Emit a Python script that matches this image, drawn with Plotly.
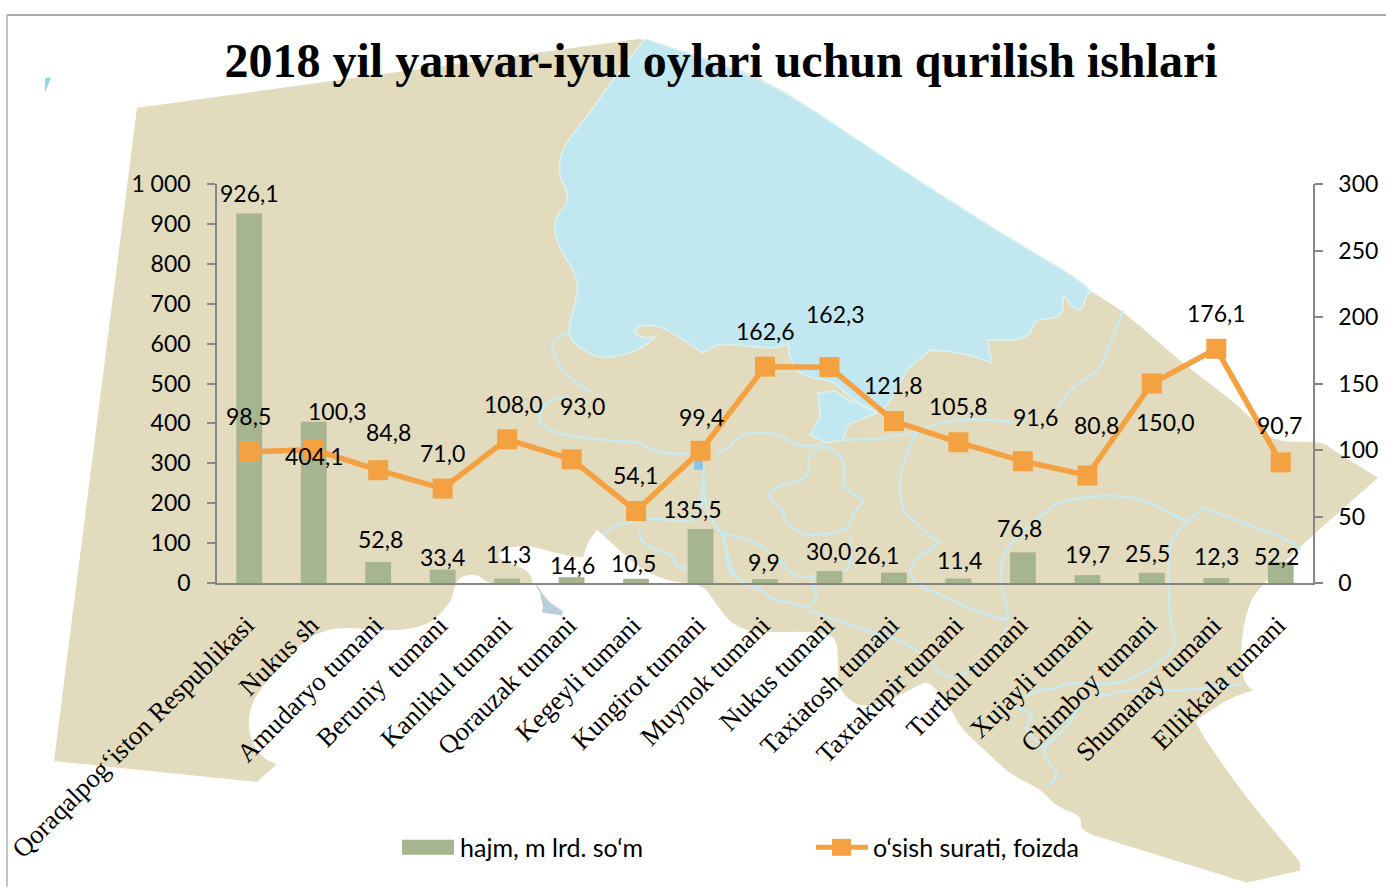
import plotly.graph_objects as go

TITLE = "2018 yil yanvar-iyul oylari uchun qurilish ishlari"
CATEGORIES = ["Qoraqalpog‘iston Respublikasi", "Nukus sh", "Amudaryo tumani", "Beruniy\u00a0\u00a0tumani",
              "Kanlikul tumani", "Qorauzak tumani", "Kegeyli tumani", "Kungirot tumani", "Muynok tumani",
              "Nukus tumani", "Taxiatosh tumani", "Taxtakupir tumani", "Turtkul tumani", "Xujayli tumani",
              "Chimboy tumani", "Shumanay tumani", "Ellikkala tumani"]
VOLUME = [926.1, 404.1, 52.8, 33.4, 11.3, 14.6, 10.5, 135.5, 9.9, 30.0, 26.1, 11.4, 76.8, 19.7, 25.5, 12.3, 52.2]
GROWTH = [98.5, 100.3, 84.8, 71.0, 108.0, 93.0, 54.1, 99.4, 162.6, 162.3, 121.8, 105.8, 91.6, 80.8, 150.0, 176.1, 90.7]
VOLUME_NAME = "hajm, m lrd. so‘m"
GROWTH_NAME = "o‘sish surati, foizda"

# label offsets in pixels from the mark
VOL_DX = [0, 1, 2, 0, 1, 1, -3, -8, -1, -1, -17, 1, -3, 0, -4, 0, -4]
VOL_DY = [20, -34, 23, 13, 24, 12, 16, 20, 17, 20, 18, 18, 24, 21, 20, 22, 6]
GRO_DX = [-1, 24, 10, 0, 6, 11, -1, 1, 0, 6, 0, 0, 13, 9, 14, 0, -1]
GRO_DY = [36, 39, 38, 36, 35, 53, 36, 34, 36, 53, 36, 36, 44, 51, -38, 36, 37]

W, H = 1386, 888
L, R, T, B = 217, 1313, 183.5, 583.5
LAND, LAKE, RIVER = "#E2DBBD", "#C1E8F0", "#C8EAF0"
BAR, ORANGE, AXIS = "#A6B48F", "#F3A141", "#868686"

# Background map, picture pixels
MAP_LAND = [(137,107),(137,107),(640,38),(640,38),(756,75),(756,75),(1092,292),(1125,312),(1178,360),(1245,410),(1271,443),(1322,441),(1332,450),
            (1378,478),(1378,478),(1302,545),(1262,585),(1248,605),(1240,647),(1243,683),(1253,691),(1253,691),(1227,700),(1195,722),(1195,722),(1207,743),
            (1247,800),(1300,863),(1300,863),(1300,872),(1300,872),(1247,884),(1247,884),(1095,837),(1095,837),(1080,830),(1082,817),(1057,808),(1042,792),(1030,785),
            (1010,775),(980,747),(960,728),(950,707),(930,683),(923,684),(923,684),(868,712),(838,693),(838,660),(837,642),(827,633),
            (793,632),(760,633),(733,627),(713,600),(703,585),(667,582),(637,567),(605,537),(597,530),(597,530),(588,542),(583,558),(583,558),
            (560,555),(527,545),(500,550),(498,560),(517,566),(530,573),(533,585),(533,585),(497,585),(485,582),(480,576),(467,575),
            (457,580),(453,593),(451,603),(428,627),(388,632),(339,627),(308,637),(277,670),(250,703),(248,737),(263,760),
            (277,765),(277,765),(257,783),(257,783),(54,762),(54,762)]
MAP_LAKE = [(645,38),(645,38),(607,87),(589,113),(562,147),(558,173),(571,200),(554,217),(556,243),(580,280),(574,307),(567,333),
            (577,347),(603,360),(640,350),(655,337),(655,337),(643,338),(633,332),(640,325),(657,325),(673,333),(703,353),(703,353),(718,343),
            (753,347),(777,348),(788,343),(788,343),(790,360),(803,377),(830,380),(843,390),(853,400),(877,413),(887,407),
            (907,370),(907,370),(930,350),(930,350),(965,353),(992,363),(992,363),
            (987,340),(987,340),(1027,340),(1036,320),(1036,320),(1063,317),(1063,295),(1063,295),(1080,315),(1087,293),(1092,292),(1092,292),(1076,277),(1001,233),
            (903,170),(810,107),(756,75)]
MAP_DELTA = [(818,393),(835,391),(846,399),(877,413),(850,424),(847,427),(843,440),(827,443),(810,435),(820,417)]
MAP_RIVERS = [
    [(568,333),(553,338),(552,350),(563,373),(583,387),(590,392)],
    [(570,397),(553,398),(541,408),(538,422),(548,430),(573,437),(623,442),(640,442),(650,450),(673,455),(697,453)],
    [(717,455),(730,447),(740,435),(757,432),(783,435),(790,443),(810,447),(823,443)],
    [(827,447),(817,447),(807,460),(810,470),(805,480),(780,485),(768,493),(772,502),(783,510),(785,523),(807,537),
     (837,533),(850,527),(855,510),(867,500),(847,492),(843,480),(845,458),(827,447)],
    [(850,537),(852,567),(840,575),(810,577),(793,577),(777,557),(747,538),(723,535),(713,523),(705,507),(703,463)],
    [(723,535),(730,567),(740,583),(763,590),(773,602),(787,602),(807,610),(818,597),(813,585),(810,577)],
    [(807,610),(840,622),(870,632),(900,640),(927,658),(943,678),(963,677),(990,653),(1008,627)],
    [(917,585),(1008,627),(1008,610),(1002,593),(1000,560),(1013,540),(1040,517),(1060,500),(1130,493),(1187,522)],
    [(1203,508),(1187,522),(1170,540),(1168,573),(1170,620),(1175,637),(1173,653),(1130,683),(1097,685),(1070,683),
     (1053,690),(1040,690),(1025,698)],
    [(1203,508),(1290,540),(1300,550)],
    [(1093,695),(1113,697),(1113,692),(1163,690),(1180,692),(1213,687),(1243,685)],
    [(1080,707),(1067,730),(1043,747),(1045,760),(1060,775),(1047,788)],
    [(1013,707),(1037,713),(1023,730),(1043,747)],
    [(917,433),(900,463),(900,510),(917,523),(933,540),(943,542),(917,557),(908,573),(917,583)],
    [(843,440),(877,440),(900,435),(917,433),(925,427),(965,418),(1014,422)],
    [(1123,310),(1112,340),(1098,373),(1076,383),(1058,407)],
    [(603,535),(613,525),(633,522),(647,518),(680,522),(700,520),(703,480)],
    [(640,530),(637,538),(653,550),(677,557),(673,567),(695,570)],
    [(713,523),(727,537),(727,570),(737,578)],
    [(697,453),(703,463)],
]
MAP_POND = [(535,585),(540,593),(543,607),(542,613),(562,616),(563,612),(550,603),(543,595),(538,587)]
MAP_MARK = [(45,77),(51,77),(45,92)]


def px(x): return (x - L) / (R - L)
def py(y): return (B - y) / (B - T)
def pt(p): return f"{px(p[0]):.5f},{py(p[1]):.5f}"
def path(pts, close=True):
    return "M" + "L".join(pt(p) for p in pts) + ("Z" if close else "")
def smooth(pts, close=True):
    """Quadratic curve through the midpoints; repeated points stay sharp."""
    mid = lambda a, b: ((a[0] + b[0]) / 2, (a[1] + b[1]) / 2)
    if close:
        s = "M" + pt(mid(pts[-1], pts[0]))
        n = len(pts)
        for i in range(n):
            s += "Q" + pt(pts[i]) + " " + pt(mid(pts[i], pts[(i + 1) % n]))
        return s + "Z"
    s = "M" + pt(pts[0])
    for i in range(1, len(pts) - 1):
        s += "Q" + pt(pts[i]) + " " + pt(mid(pts[i], pts[i + 1]))
    return s + "L" + pt(pts[-1])
def poly(pts, fill, line=None, lw=0, curve=False):
    return dict(type="path", xref="paper", yref="paper", layer="below", path=smooth(pts) if curve else path(pts),
                fillcolor=fill, line=dict(color=line or fill, width=lw))

shapes = [poly(MAP_LAND, LAND, curve=True), poly(MAP_LAKE, LAKE, "#DDF1F0", 1.5, curve=True),
          poly(MAP_DELTA, LAKE, "#DDF1F0", 1.5)]
for r in MAP_RIVERS:
    shapes.append(dict(type="path", xref="paper", yref="paper", layer="below", path=smooth(r, False),
                       line=dict(color=RIVER, width=2.5)))
shapes += [poly(MAP_POND, "#B7CFDD"), poly(MAP_MARK, "#8FD8DC"),
           poly([(694,460),(703,460),(703,470),(694,470)], "#8CC4E4")]
# frame
shapes += [dict(type="line", xref="paper", yref="paper", x0=px(7), x1=px(1386), y0=py(14), y1=py(14), layer="below",
                line=dict(color="#8C8C8C", width=1.5)),
           dict(type="line", xref="paper", yref="paper", x0=px(7), x1=px(7), y0=py(14), y1=py(888), layer="below",
                line=dict(color="#B0B0B0", width=1.5))]
# legend keys
shapes += [poly([(402,841),(454,841),(454,856),(402,856)], BAR),
           dict(type="line", xref="paper", yref="paper", x0=px(816), x1=px(868), y0=py(848.5), y1=py(848.5),
                line=dict(color=ORANGE, width=5)),
           poly([(832,840),(851,840),(851,857),(832,857)], ORANGE)]

fig = go.Figure()
fig.add_bar(x=CATEGORIES, y=VOLUME, name=VOLUME_NAME, marker=dict(color=BAR, line=dict(width=0)), width=0.4, yaxis="y")
fig.add_scatter(x=CATEGORIES, y=GROWTH, name=GROWTH_NAME, mode="lines+markers", yaxis="y2",
                line=dict(color=ORANGE, width=5.5), marker=dict(symbol="square", size=20, color=ORANGE))

LAB = dict(family="Lato, Carlito, sans-serif", size=23, color="black")
LEG = dict(family="Lato, Carlito, sans-serif", size=25, color="black")
ann = []
def fmt(v): return f"{v:.1f}".replace(".", ",")
for c, v, dx, dy in zip(CATEGORIES, VOLUME, VOL_DX, VOL_DY):
    ann.append(dict(x=c, y=v, xref="x", yref="y", text=fmt(v), showarrow=False, xshift=dx, yshift=dy, font=LAB,
                    xanchor="center", yanchor="middle"))
for c, v, dx, dy in zip(CATEGORIES, GROWTH, GRO_DX, GRO_DY):
    ann.append(dict(x=c, y=v, xref="x", yref="y2", text=fmt(v), showarrow=False, xshift=dx, yshift=dy, font=LAB,
                    xanchor="center", yanchor="middle"))
ann.append(dict(x=px(459), y=py(848), xref="paper", yref="paper", text=VOLUME_NAME, showarrow=False, font=LEG,
                xanchor="left", yanchor="middle", xshift=-1))
ann.append(dict(x=px(872), y=py(848), xref="paper", yref="paper", text=GROWTH_NAME, showarrow=False, font=LEG,
                xanchor="left", yanchor="middle", xshift=-1))

TICK = dict(family="Lato, Carlito, sans-serif", size=23, color="black")
v1 = list(range(0, 1001, 100))
fig.update_layout(
    width=W, height=H, margin=dict(l=L, r=W - R, t=T, b=H - B, pad=0, autoexpand=False),
    paper_bgcolor="white", plot_bgcolor="rgba(0,0,0,0)", showlegend=False, bargap=0.6,
    title=dict(text=f"<b>{TITLE}</b>", x=721 / W, xanchor="center", y=1 - 60 / H, yanchor="middle",
               xref="container", font=dict(family="Liberation Serif", size=48, color="black")),
    xaxis=dict(type="category", range=[-0.5, 16.5], tickangle=-45, showgrid=False, ticks="", showline=True, linecolor=AXIS,
               linewidth=2, automargin=False, tickfont=dict(family="Liberation Serif", size=26.5, color="black"),
               ticklabelstandoff=14, ticklabelshift=-3, zeroline=False),
    yaxis=dict(range=[0, 1000], tickvals=v1, ticktext=["0"] + [str(v) for v in v1[1:-1]] + ["1 000"], showgrid=False,
               ticks="outside", ticklen=8, tickcolor=AXIS, tickwidth=1.5, showline=True, linecolor=AXIS, linewidth=1.5,
               automargin=False, tickfont=TICK, ticklabelstandoff=12, zeroline=False),
    yaxis2=dict(range=[0, 300], dtick=50, overlaying="y", side="right", showgrid=False, ticks="outside", ticklen=8,
                tickcolor=AXIS, tickwidth=1.5, showline=True, linecolor=AXIS, linewidth=1.5, automargin=False,
                tickfont=TICK, ticklabelstandoff=11, zeroline=False),
    shapes=shapes, annotations=ann,
)
fig.write_html("out.html", config=dict(displayModeBar=False),
               post_script="document.body.style.margin='0';document.body.style.overflow='hidden';")
